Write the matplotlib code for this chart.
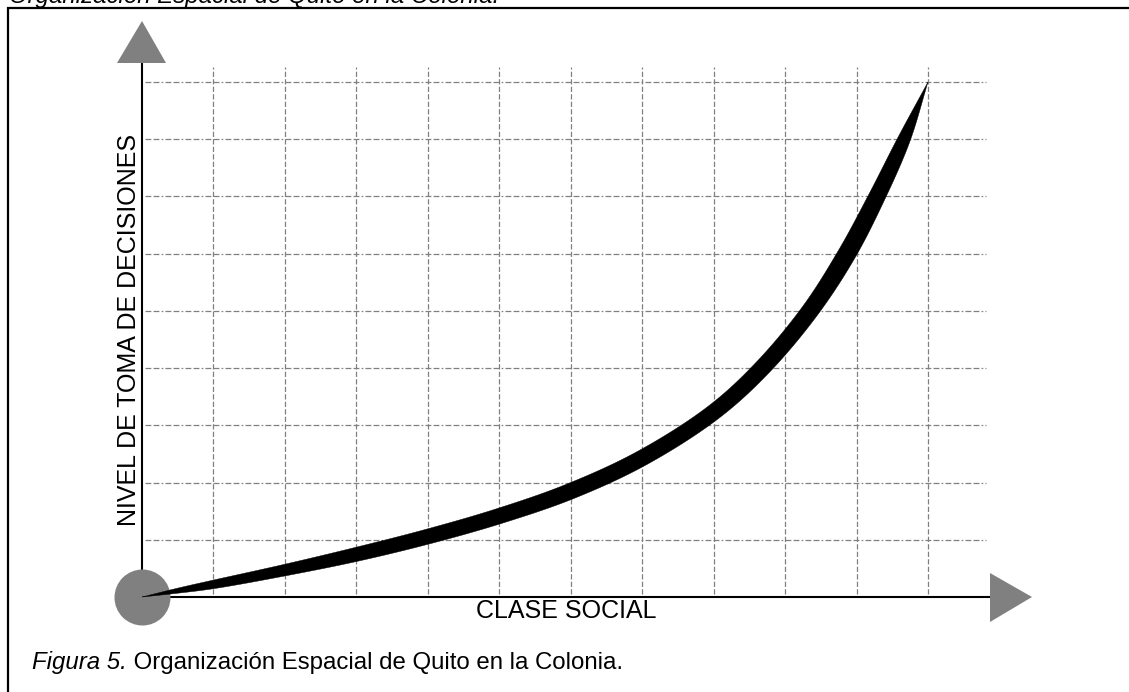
import numpy as np
import matplotlib
matplotlib.use("Agg")
import matplotlib.pyplot as plt
from matplotlib.patches import Polygon
from matplotlib.lines import Line2D

plt.rcParams['font.family'] = ['Liberation Sans', 'DejaVu Sans']
plt.rcParams['lines.scale_dashes'] = False

# ---------------- data ----------------
class_x = [0, 0.5, 1.0, 2.0, 3.0, 4.0, 5.0, 6.0, 7.0, 8.0, 8.677, 9.348, 9.866, 10.287, 10.665, 11.0]
decision_y = [0, 0.11, 0.22, 0.47, 0.745, 1.056, 1.415, 1.85, 2.43, 3.23, 4.0, 5.0, 6.0, 7.0, 8.0, 9.0]
band_width_px = [0, 5, 8.5, 11.5, 14, 15, 15.5, 16, 16, 16, 16.5, 17, 18, 16.5, 12.5, 0]
grid_x = list(range(1, 12))
grid_y = list(range(1, 10))
x_label = "CLASE SOCIAL"
y_label = "NIVEL DE TOMA DE DECISIONES"
top_title = "Organización Espacial de Quito en la Colonia."
caption_lead = "Figura 5."
caption_text = "Organización Espacial de Quito en la Colonia."

# ---------------- layout ----------------
W, H, DPI = 1129, 692, 100
GRAY = '#808080'
fig = plt.figure(figsize=(W / DPI, H / DPI), dpi=DPI)
ox, oy = 142, 597          # origin (px from left / top)
xr, yt = 928, 82           # x=11, y=9 positions
ax = fig.add_axes([ox / W, (H - oy) / H, (xr - ox) / W, (oy - yt) / H])
ax.set_xlim(0, 11)
ax.set_ylim(0, 9)
ax.axis('off')

sx = (xr - ox) / 11.0
sy = (oy - yt) / 9.0
def px2x(px):
    return (px - ox) / sx
def py2y(py):
    return (oy - py) / sy

# grid
for gy in grid_y:
    ax.plot([px2x(145), px2x(986)], [gy, gy], color=GRAY, lw=0.9,
            dashes=[4.2, 1.6, 4.2, 1.6, 1.2, 1.6], clip_on=False, zorder=1)
for gx in grid_x:
    ax.plot([gx, gx], [py2y(594), py2y(67)], color=GRAY, lw=0.9,
            dashes=[3.8, 1.6], clip_on=False, zorder=1)

# axes lines
ax.plot([0, 0], [0, py2y(63)], color='black', lw=1.5, clip_on=False, zorder=2)
ax.plot([0, px2x(990)], [0, 0], color='black', lw=1.5, clip_on=False, zorder=2)

# arrow heads
ax.add_patch(Polygon([[px2x(117), py2y(63)], [px2x(166), py2y(63)], [0, py2y(21)]],
                     closed=True, facecolor=GRAY, edgecolor='none', clip_on=False, zorder=2))
ax.add_patch(Polygon([[px2x(990), py2y(573)], [px2x(990), py2y(622)], [px2x(1032), 0]],
                     closed=True, facecolor=GRAY, edgecolor='none', clip_on=False, zorder=2))

# origin circle
ax.scatter([class_x[0]], [decision_y[0]], s=(56 * 72 / DPI) ** 2, c=GRAY,
           linewidths=0, clip_on=False, zorder=3)

# crescent band (centripetal Catmull-Rom through the read points, in pixel space)
def catmull_centripetal(P, n=40, alpha=0.5):
    P = np.asarray(P, dtype=float)
    ext = np.vstack([2 * P[0] - P[1], P, 2 * P[-1] - P[-2]])
    out = []
    for i in range(1, len(ext) - 2):
        p0, p1, p2, p3 = ext[i - 1], ext[i], ext[i + 1], ext[i + 2]
        def tj(ti, a, b):
            return ti + max(np.linalg.norm(b[:2] - a[:2]), 1e-6) ** alpha
        t0 = 0.0
        t1 = tj(t0, p0, p1)
        t2 = tj(t1, p1, p2)
        t3 = tj(t2, p2, p3)
        t = np.linspace(t1, t2, n, endpoint=False)[:, None]
        A1 = (t1 - t) / (t1 - t0) * p0 + (t - t0) / (t1 - t0) * p1
        A2 = (t2 - t) / (t2 - t1) * p1 + (t - t1) / (t2 - t1) * p2
        A3 = (t3 - t) / (t3 - t2) * p2 + (t - t2) / (t3 - t2) * p3
        B1 = (t2 - t) / (t2 - t0) * A1 + (t - t0) / (t2 - t0) * A2
        B2 = (t3 - t) / (t3 - t1) * A2 + (t - t1) / (t3 - t1) * A3
        C = (t2 - t) / (t2 - t1) * B1 + (t - t1) / (t2 - t1) * B2
        out.append(C)
    out.append(P[-1][None, :])
    return np.vstack(out)

disp = ax.transData.transform(np.column_stack([class_x, decision_y]))
P = np.column_stack([disp, band_width_px])
D = catmull_centripetal(P)
c = D[:, :2]
w = np.clip(D[:, 2], 0, None)
tg = np.gradient(c, axis=0)
tg /= np.linalg.norm(tg, axis=1)[:, None]
nrm = np.column_stack([-tg[:, 1], tg[:, 0]])
upper = c + nrm * (w / 2)[:, None]
lower = c - nrm * (w / 2)[:, None]
poly_disp = np.vstack([upper, lower[::-1]])
poly_data = ax.transData.inverted().transform(poly_disp)
ax.add_patch(Polygon(poly_data, closed=True, facecolor='black', edgecolor='black',
                     lw=0.3, clip_on=False, zorder=4))

# labels
fig.text(141 / W, (H - 330) / H, y_label, rotation=90, ha='right', va='center', fontsize=18)
fig.text(566 / W, (H - 618) / H, x_label, ha='center', va='baseline', fontsize=18)

# frame
fig.add_artist(Line2D([7.8 / W, 7.8 / W, 1.0], [0, (H - 7.7) / H, (H - 7.7) / H],
                      transform=fig.transFigure, color='black', lw=1.6,
                      solid_joinstyle='miter'))

# top (cut) title and caption
CAP_FS = 17.3
fig.text(9 / W, (H - 3) / H, top_title, style='italic', fontsize=CAP_FS, va='baseline')
t1 = fig.text(32 / W, (H - 669) / H, caption_lead, style='italic', fontsize=CAP_FS, va='baseline')
fig.canvas.draw()
bb = t1.get_window_extent()
fig.text(bb.x1 / W, (H - 669) / H, " " + caption_text, fontsize=CAP_FS, va='baseline')

fig.savefig('out.png', dpi=DPI)
